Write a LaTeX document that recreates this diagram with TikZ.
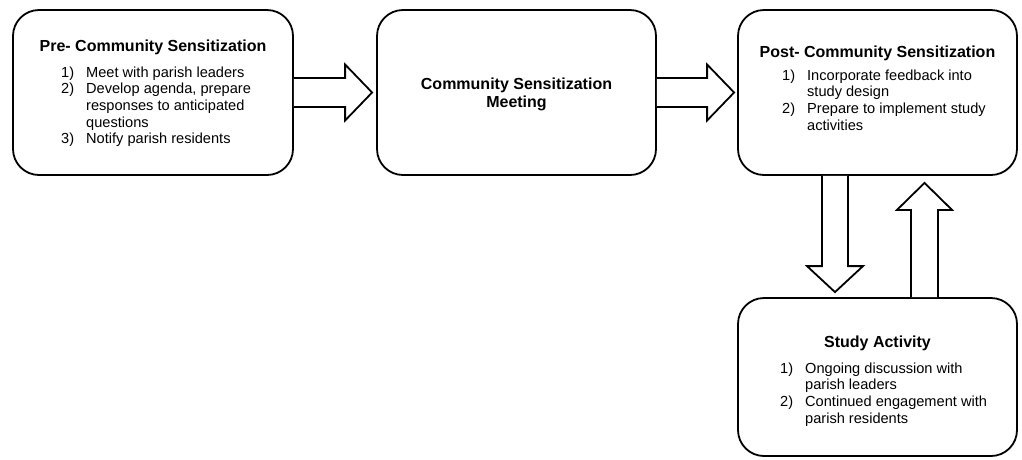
\documentclass[tikz,border=0pt]{standalone}
\usepackage{fontspec}
\setmainfont{Liberation Sans}
\usetikzlibrary{calc}
\newcommand{\itemfnt}{\fontsize{14.6}{16.7}\selectfont}
\newcommand{\titlefnt}{\fontsize{16}{18.4}\selectfont\bfseries}
\begin{document}
\begin{tikzpicture}[x=1pt,y=-1pt,
  box/.style={draw, line width=1.8pt, rounded corners=26pt, inner sep=0pt},
  blockarrow/.style={draw, line width=1.8pt, line join=miter, fill=white},
  ttl/.style={font=\titlefnt, inner sep=0pt, anchor=base},
  lst/.style={font=\itemfnt, inner sep=0pt, anchor=base west}]
\useasboundingbox (0,0) rectangle (1022,459);
% boxes
\node[box, minimum width=280pt, minimum height=165pt] (b1) at (153,92.5) {};
\node[box, minimum width=279pt, minimum height=165pt] (b2) at (516.5,92.5) {};
\node[box, minimum width=279pt, minimum height=165pt] (b3) at (877.5,92.5) {};
\node[box, minimum width=279pt, minimum height=158pt] (b4) at (877.5,377) {};
% texts
\node[ttl] (t1) at (153,51) {Pre- Community Sensitization};
\node[lst] (l1) at (61,77) {\begin{tabular}[t]{@{}l@{\hspace{12pt}}l@{}}
1) & Meet with parish leaders\\
2) & Develop agenda, prepare\\
   & responses to anticipated\\
   & questions\\
3) & Notify parish residents
\end{tabular}};
\node[ttl] (t2) at (516.5,89.5) {\begin{tabular}[t]{@{}c@{}}Community Sensitization\\Meeting\end{tabular}};
\node[ttl] (t3) at (877.5,57.5) {Post- Community Sensitization};
\node[lst] (l3) at (782,80) {\begin{tabular}[t]{@{}l@{\hspace{12pt}}l@{}}
1) & Incorporate feedback into\\
   & study design\\
2) & Prepare to implement study\\
   & activities
\end{tabular}};
\node[ttl] (t4) at (877.5,347.5) {Study Activity};
\node[lst] (l4) at (780,373) {\begin{tabular}[t]{@{}l@{\hspace{12pt}}l@{}}
1) & Ongoing discussion with\\
   & parish leaders\\
2) & Continued engagement with\\
   & parish residents
\end{tabular}};
% block arrows
\draw[blockarrow] ($(b1.east)+(0,-14.5)$) -- ($(b2.west)+(-31,-14.5)$) -- ($(b2.west)+(-31,-28)$)
  -- ($(b2.west)+(-4,0)$) -- ($(b2.west)+(-31,28)$) -- ($(b2.west)+(-31,14.5)$) -- ($(b1.east)+(0,14.5)$);
\draw[blockarrow] ($(b2.east)+(0,-14.5)$) -- ($(b3.west)+(-30,-14.5)$) -- ($(b3.west)+(-30,-28)$)
  -- ($(b3.west)+(-3,0)$) -- ($(b3.west)+(-30,28)$) -- ($(b3.west)+(-30,14.5)$) -- ($(b2.east)+(0,14.5)$);
\coordinate (ds) at ($(b3.south)+(-42.5,0)$);
\coordinate (dt) at ($(b4.north)+(-42.5,0)$);
\draw[blockarrow] ($(ds)+(-13,0)$) -- ($(dt)+(-13,-31)$) -- ($(dt)+(-28,-31)$) -- ($(dt)+(0,-5)$)
  -- ($(dt)+(28,-31)$) -- ($(dt)+(13,-31)$) -- ($(ds)+(13,0)$);
\coordinate (us) at ($(b4.north)+(47,0)$);
\coordinate (ut) at ($(b3.south)+(47,0)$);
\draw[blockarrow] ($(us)+(-13.5,0)$) -- ($(ut)+(-13.5,34)$) -- ($(ut)+(-27.5,34)$) -- ($(ut)+(0,7)$)
  -- ($(ut)+(27.5,34)$) -- ($(ut)+(13.5,34)$) -- ($(us)+(13.5,0)$);
\end{tikzpicture}
\end{document}
